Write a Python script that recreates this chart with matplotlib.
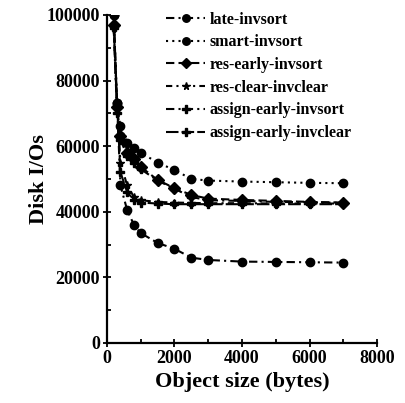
import numpy as np
import matplotlib.pyplot as plt
from matplotlib.ticker import MultipleLocator

# tamaño de objeto (bytes)
obj_size = [200, 300, 400, 600, 800, 1000, 1500, 2000, 2500, 3000, 4000, 5000, 6000, 7000]

late_invsort = [100000, 73000, 48000, 40500, 36000, 33500, 30500, 28700, 26000, 25300, 24800, 24700, 24600, 24500]
smart_invsort = [100000, 73000, 66000, 61000, 59500, 58000, 55000, 52700, 50000, 49500, 49200, 49000, 48800, 48700]
res_early_invsort = [97000, 72000, 63000, 58000, 56000, 53700, 49700, 47200, 45100, 44000, 43600, 43300, 43000, 42800]
res_clear_invclear = [96000, 72000, 55000, 48000, 44500, 43500, 43000, 42800, 42700, 42600, 42600, 42500, 42500, 42500]
assign_early_invsort = [96000, 70000, 62000, 57000, 55000, 53000, 49500, 47000, 44500, 43500, 43300, 43000, 42900, 42700]
assign_early_invclear = [100000, 73000, 52000, 46000, 43500, 42800, 42500, 42300, 42300, 42300, 42300, 42300, 42300, 42300]

series = [
    ("late-invsort", late_invsort, (0, (4, 2, 1, 2)), "o"),
    ("smart-invsort", smart_invsort, (0, (1, 2)), "o"),
    ("res-early-invsort", res_early_invsort, (0, (4, 2)), "D"),
    ("res-clear-invclear", res_clear_invclear, (0, (3, 2, 1, 2)), "*"),
    ("assign-early-invsort", assign_early_invsort, (0, (4, 2, 1, 2)), "P"),
    ("assign-early-invclear", assign_early_invclear, (0, (6, 1.5)), "P"),
]

plt.rcParams['font.family'] = ['Liberation Serif', 'DejaVu Serif']

fig = plt.figure(figsize=(4.05, 4.03), dpi=100)
ax = fig.add_axes([0.264, 0.149, 0.667, 0.814])

for name, vals, ls, mk in series:
    ax.plot(obj_size, vals, color='black', linestyle=ls, linewidth=1.5,
            marker=mk, markersize=6, label=name)

ax.set_xlim(0, 8000)
ax.set_ylim(0, 100000)
ax.xaxis.set_major_locator(MultipleLocator(2000))
ax.xaxis.set_minor_locator(MultipleLocator(1000))
ax.yaxis.set_major_locator(MultipleLocator(20000))
ax.yaxis.set_minor_locator(MultipleLocator(10000))
ax.spines['top'].set_visible(False)
ax.spines['right'].set_visible(False)
ax.spines['left'].set_linewidth(1.6)
ax.spines['bottom'].set_linewidth(1.6)
ax.tick_params(which='major', direction='inout', length=6, width=1.3, labelsize=13, pad=2)
ax.tick_params(which='minor', direction='in', length=3, width=1.3)
for lbl in ax.get_xticklabels() + ax.get_yticklabels():
    lbl.set_fontweight('bold')

ax.set_xlabel('Object size (bytes)', fontsize=16, fontweight='bold', labelpad=4)
ax.set_ylabel('Disk I/Os', fontsize=16, fontweight='bold')
ax.yaxis.set_label_coords(-0.215, 0.5)

ax.legend(loc='upper left', bbox_to_anchor=(0.22, 1.01), frameon=False,
          prop={'size': 11.5, 'weight': 'bold'}, handlelength=2.4,
          handletextpad=0.3, labelspacing=0.42, borderpad=0,
          borderaxespad=0, markerscale=0.9)

fig.savefig('out.png', dpi=100)
